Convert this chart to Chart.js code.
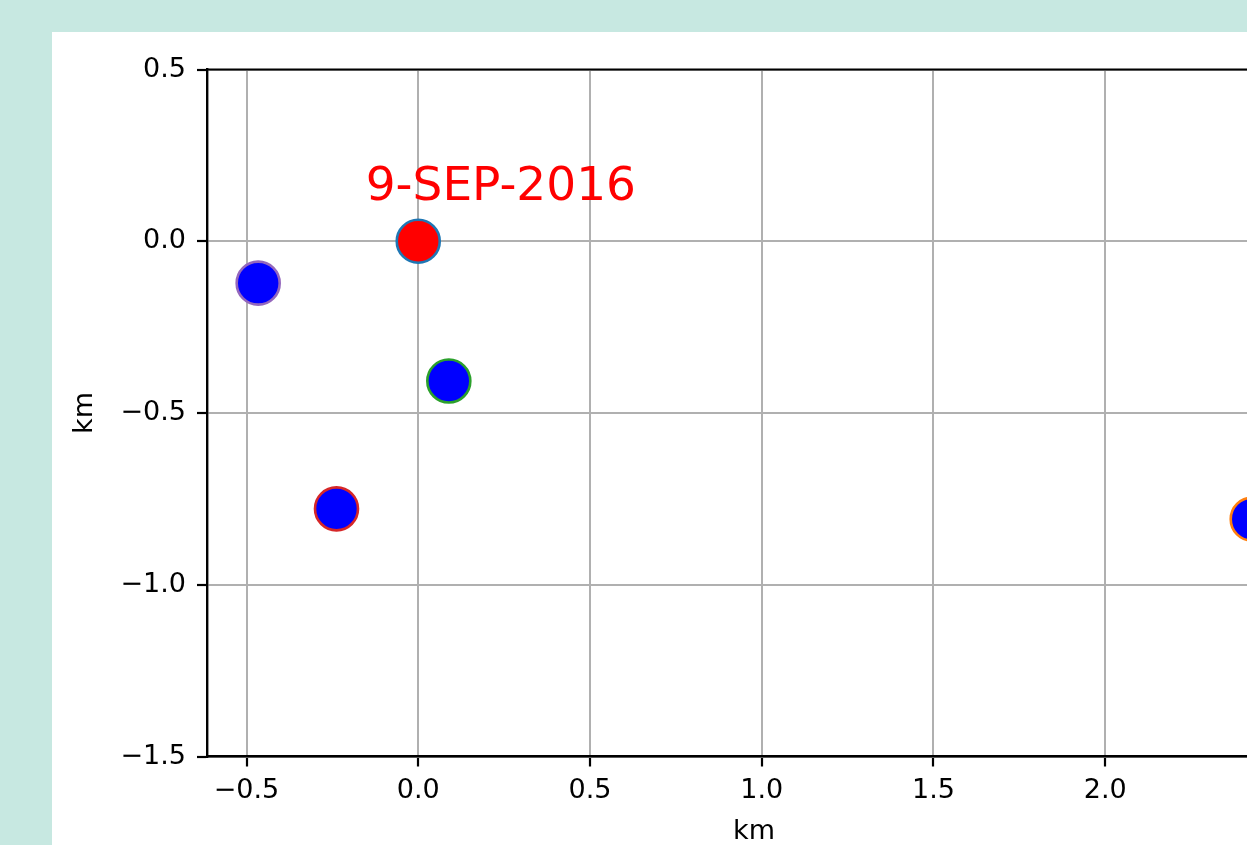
<!DOCTYPE html>
<html>
<head>
<meta charset="utf-8">
<script src="https://cdn.jsdelivr.net/npm/chart.js@4/dist/chart.umd.min.js"></script>
<style>
  html, body { margin: 0; padding: 0; width: 1247px; height: 845px; overflow: hidden; background: #c7e8e1; }
  #panel { position: absolute; left: 52px; top: 32px; width: 1400px; height: 850px; background: #ffffff; }
  #plot { position: absolute; left: 0; top: 0; }
</style>
</head>
<body>
<div id="panel"><canvas id="plot" width="1400" height="850"></canvas></div>
<script>
// Station offsets from the reference site, in km (east, north)
const eastKm  = [0.000, 2.428, 0.089, -0.238, -0.466];
const northKm = [0.000, -0.809, -0.407, -0.779, -0.122];

// Axis ticks and the date caption
const xTicks = [-0.5, 0.0, 0.5, 1.0, 1.5, 2.0, 2.5];
const yTicks = [-1.5, -1.0, -0.5, 0.0, 0.5];
const axisLabel = 'km';
const dateLabel = '9-SEP-2016';

// Marker styling: first station red, the rest blue, each ringed in its cycle colour
const faceColors = ['#ff0000', '#0000ff', '#0000ff', '#0000ff', '#0000ff'];
const edgeColors = ['#1f77b4', '#ff7f0e', '#2ca02c', '#d62728', '#9467bd'];

const FONT = 'DejaVu Sans';
const fmt = v => (v < 0 ? '\u2212' : '') + Math.abs(v).toFixed(1);

const datasets = eastKm.map((x, i) => ({
  data: [{ x: x, y: northKm[i] }],
  backgroundColor: faceColors[i],
  borderColor: edgeColors[i],
  borderWidth: 2.6,
  pointRadius: 21.5,
  pointHoverRadius: 21.5,
  clip: false
}));

// Top and right edges of the axes box, plus the date caption
const framePlugin = {
  id: 'frame',
  afterDatasetsDraw(chart) {
    const { ctx, chartArea: a, scales } = chart;
    ctx.save();
    ctx.strokeStyle = '#000';
    ctx.lineWidth = 2.2;
    ctx.beginPath();
    ctx.moveTo(a.left, a.top);
    ctx.lineTo(a.right, a.top);
    ctx.lineTo(a.right, a.bottom);
    ctx.stroke();

    ctx.fillStyle = '#ff0000';
    ctx.font = '47px "' + FONT + '"';
    ctx.textAlign = 'left';
    ctx.textBaseline = 'alphabetic';
    ctx.fillText(dateLabel, scales.x.getPixelForValue(-0.153), scales.y.getPixelForValue(0.12));
    ctx.restore();
  }
};

const tickFont = { family: FONT, size: 27 };

new Chart(document.getElementById('plot'), {
  type: 'scatter',
  data: { datasets },
  options: {
    responsive: false,
    animation: false,
    devicePixelRatio: 1,
    layout: { padding: { left: 0, top: 37.5, right: 151, bottom: 29.5 } },
    plugins: { legend: { display: false }, tooltip: { enabled: false } },
    events: [],
    scales: {
      x: {
        type: 'linear',
        min: -0.615,
        max: 2.57,
        afterBuildTicks: s => { s.ticks = xTicks.map(v => ({ value: v })); },
        afterFit: s => { s.height = 96; },
        ticks: { callback: v => fmt(v), font: tickFont, color: '#000', padding: 8, maxRotation: 0, autoSkip: false },
        grid: { color: '#b0b0b0', lineWidth: 2, tickColor: '#000', tickLength: 10, tickWidth: 2.2 },
        border: { color: '#000', width: 2.4 },
        title: { display: true, text: axisLabel, font: tickFont, color: '#000', padding: { top: 0, bottom: 4 } }
      },
      y: {
        type: 'linear',
        min: -1.5,
        max: 0.5,
        afterBuildTicks: s => { s.ticks = yTicks.map(v => ({ value: v })); },
        afterFit: s => { s.width = 155; },
        ticks: { callback: v => fmt(v), font: tickFont, color: '#000', padding: 11, autoSkip: false },
        grid: { color: '#b0b0b0', lineWidth: 2, tickColor: '#000', tickLength: 10, tickWidth: 2.2 },
        border: { color: '#000', width: 2.4 },
        title: { display: true, text: axisLabel, font: tickFont, color: '#000', padding: { top: 16.5, bottom: 0 } }
      }
    }
  },
  plugins: [framePlugin]
});
</script>
</body>
</html>
